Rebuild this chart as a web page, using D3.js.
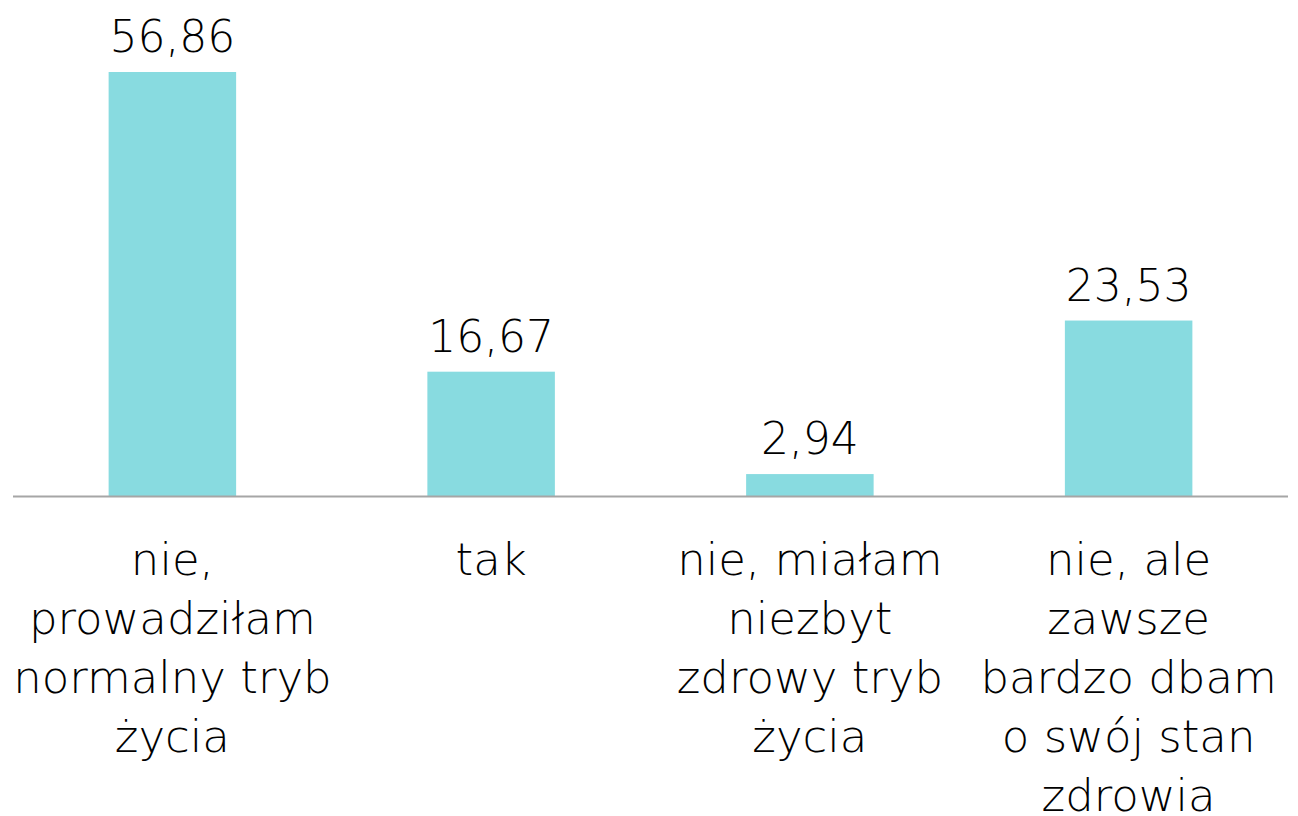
<!DOCTYPE html>
<html>
<head>
<meta charset="utf-8">
<script src="https://cdn.jsdelivr.net/npm/d3@7"></script>
<style>
  html, body { margin: 0; padding: 0; background: #fff; }
  svg { display: block; font-family: "DejaVu Sans", sans-serif; font-weight: 200; }
</style>
</head>
<body>
<svg id="chart" width="1298" height="816"></svg>
<script>
// data
const categories = [
  'nie,\nprowadziłam\nnormalny tryb\nżycia',
  'tak',
  'nie, miałam\nniezbyt\nzdrowy tryb\nżycia',
  'nie, ale\nzawsze\nbardzo dbam\no swój stan\nzdrowia'
];
const values = [56.86, 16.67, 2.94, 23.53];

const svg = d3.select('#chart');

const plotLeft = 13, plotRight = 1288;
const baseline = 496, plotTop = 72;

const x = d3.scaleBand()
  .domain(categories)
  .range([plotLeft, plotRight])
  .paddingInner(0.6)
  .paddingOuter(0.3);

const y = d3.scaleLinear()
  .domain([0, 56.86])
  .range([baseline, plotTop]);

const fmt = (v) => v.toFixed(2).replace('.', ',');

// bars
svg.selectAll('rect.bar')
  .data(values)
  .enter()
  .append('rect')
  .attr('class', 'bar')
  .attr('x', (d, i) => x(categories[i]))
  .attr('y', (d) => y(d))
  .attr('width', x.bandwidth())
  .attr('height', (d) => baseline - y(d))
  .attr('fill', '#88dbe0');

// axis line
svg.append('line')
  .attr('x1', plotLeft)
  .attr('x2', plotRight)
  .attr('y1', baseline + 0.5)
  .attr('y2', baseline + 0.5)
  .attr('stroke', '#a6a6a6')
  .attr('stroke-width', 2);

// value labels
svg.selectAll('text.value')
  .data(values)
  .enter()
  .append('text')
  .attr('class', 'value')
  .attr('x', (d, i) => x(categories[i]) + x.bandwidth() / 2)
  .attr('y', (d) => y(d) - 20)
  .attr('text-anchor', 'middle')
  .attr('font-size', 44)
  .attr('fill', '#000')
  .text(fmt);

// category labels
const cat = svg.selectAll('text.cat')
  .data(categories)
  .enter()
  .append('text')
  .attr('class', 'cat')
  .attr('text-anchor', 'middle')
  .attr('font-size', 45)
  .attr('fill', '#000');

cat.selectAll('tspan')
  .data((d) => d.split('\n').map((line) => ({ line: line, cx: x(d) + x.bandwidth() / 2 })))
  .enter()
  .append('tspan')
  .attr('x', (d) => d.cx)
  .attr('y', (d, i) => 575 + i * 59)
  .text((d) => d.line);
</script>
</body>
</html>
